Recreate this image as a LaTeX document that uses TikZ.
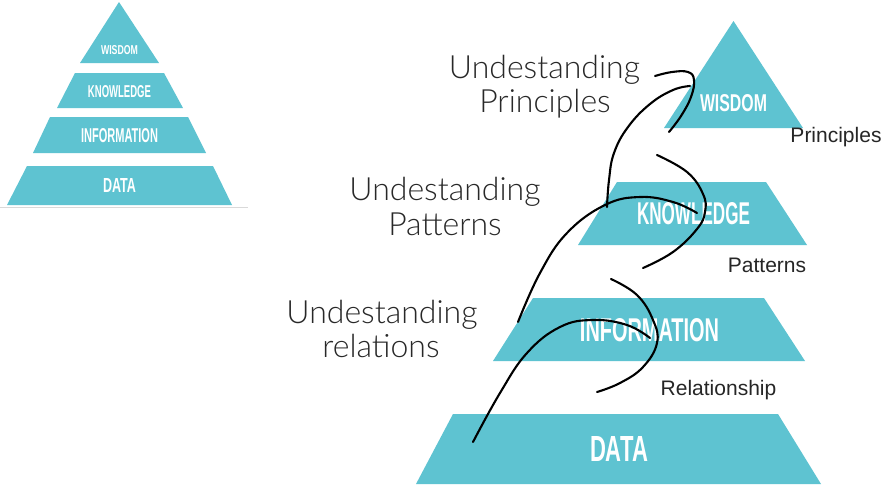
\documentclass[tikz,border=0pt]{standalone}
\usepackage{fontspec}
\setmainfont{Liberation Sans}
\newfontfamily\lightfont{Lato Light}
\usepackage{graphicx}
\definecolor{tealtier}{RGB}{94,195,209}
\definecolor{labelgray}{RGB}{40,40,40}
\begin{document}
\begin{tikzpicture}[x=1pt,y=-1pt,
  tier/.style={fill=tealtier},
  tiertext/.style={text=white,inner sep=0pt,font=\bfseries},
  biglabel/.style={inner sep=0pt,anchor=base,text=labelgray,font=\lightfont\fontsize{32}{37}\selectfont},
  smalllabel/.style={inner sep=0pt,anchor=base,text=black!85,font=\fontsize{21}{25}\selectfont},
  stroke/.style={line width=2.1pt,line cap=round,line join=round}]
\useasboundingbox[fill=white] (0,0) rectangle (886,488);

% ---------- left small pyramid ----------
\fill[tier] (119,2) -- (159,63) -- (80,63) -- cycle;
\fill[tier] (75,73) -- (164,73) -- (183,108) -- (57,108) -- cycle;
\fill[tier] (50,117) -- (188,117) -- (206,153) -- (33,153) -- cycle;
\fill[tier] (27,166) -- (213,166) -- (232,205) -- (7,205) -- cycle;
\draw[black!15,line width=1pt] (0,207) -- (248,207);
\node[tiertext] (lw) at (119.5,50) {\resizebox{37pt}{9pt}{WISDOM}};
\node[tiertext] (lk) at (119.5,92) {\resizebox{63pt}{12pt}{KNOWLEDGE}};
\node[tiertext] (li) at (119.5,135.5) {\resizebox{77pt}{14pt}{INFORMATION}};
\node[tiertext] (ld) at (119.5,185.5) {\resizebox{33pt}{14pt}{DATA}};

% ---------- right large pyramid ----------
\fill[tier] (733.5,21) -- (803,128) -- (664,128) -- cycle;
\fill[tier] (617,182) -- (766,182) -- (807,245) -- (578,245) -- cycle;
\fill[tier] (533,298) -- (764,298) -- (805,361) -- (493,361) -- cycle;
\fill[tier] (453,414) -- (778,414) -- (821,484) -- (416,484) -- cycle;
\node[tiertext] (rw) at (733.5,103) {\resizebox{67pt}{17pt}{WISDOM}};
\node[tiertext] (rk) at (693.5,214) {\resizebox{113pt}{22pt}{KNOWLEDGE}};
\node[tiertext] (ri) at (649.5,330) {\resizebox{139pt}{23pt}{INFORMATION}};
\node[tiertext] (rd) at (619,449) {\resizebox{58pt}{25pt}{DATA}};

% ---------- side labels ----------
\node[smalllabel] (sp) at (836,142) {Principles};
\node[smalllabel] (spa) at (767,272) {Patterns};
\node[smalllabel] (sr) at (718.5,395) {Relationship};

% ---------- understanding labels ----------
\node[biglabel] (u1a) at (544.5,78) {Undestanding};
\node[biglabel] (u1b) at (545,112) {Principles};
\node[biglabel] (u2a) at (445,200) {Undestanding};
\node[biglabel] (u2b) at (445,235) {Patterns};
\node[biglabel] (u3a) at (382,323) {Undestanding};
\node[biglabel] (u3b) at (381,357) {relations};

% ---------- hand-drawn strokes ----------
\draw[stroke] plot[smooth,tension=0.7] coordinates {(655,76) (672,72) (688,72) (694,80) (691,97) (681,116) (669,132)};
\draw[stroke] plot[smooth,tension=0.7] coordinates {(690,86) (673,90) (650,104) (628,127) (614,153) (609,180) (607,207)};
\draw[stroke] plot[smooth,tension=0.7] coordinates {(657,155) (687,172) (703,194) (705,212) (697,229) (673,252) (643,268)};
\draw[stroke] plot[smooth,tension=0.7] coordinates {(697,213) (673,202) (640,197) (605,205) (567,233) (540,273) (518,322)};
\draw[stroke] plot[smooth,tension=0.7] coordinates {(611,279) (637,295) (653,320) (657,343) (643,367) (620,383) (597,392)};
\draw[stroke] plot[smooth,tension=0.7] coordinates {(650,338) (627,325) (593,320) (560,327) (527,353) (500,393) (473,442)};
\end{tikzpicture}
\end{document}
